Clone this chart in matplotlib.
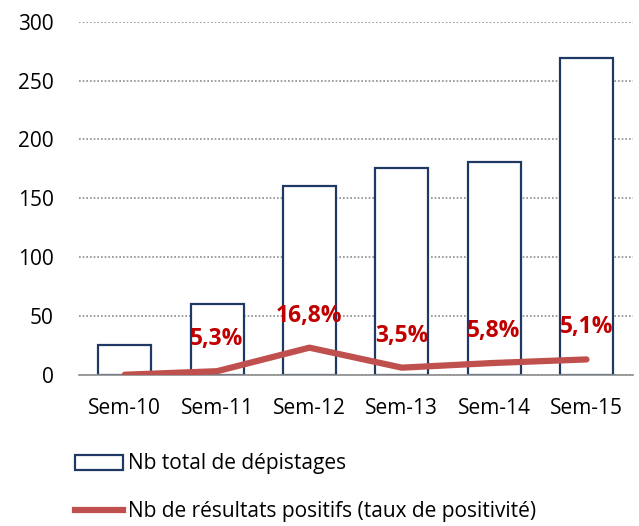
import matplotlib.pyplot as plt
from matplotlib.patches import Patch
from matplotlib.lines import Line2D

plt.rcParams['font.family'] = ['Open Sans', 'DejaVu Sans']

weeks = ["Sem-10", "Sem-11", "Sem-12", "Sem-13", "Sem-14", "Sem-15"]
total = [25, 60, 160, 176, 181, 269]
positives = [0, 3, 23, 6, 10, 13]
rates = [None, "5,3%", "16,8%", "3,5%", "5,8%", "5,1%"]

NAVY = "#1F3864"
RED_LINE = "#C0504D"
RED_TXT = "#C00000"

fig = plt.figure(figsize=(6.39, 5.26), dpi=100)
ax = fig.add_axes([0.123, 0.2876, 0.867, 0.6711])

x = list(range(len(weeks)))
ax.bar(x, total, width=0.575, facecolor="white", edgecolor=NAVY, linewidth=1.6, zorder=2)
ax.plot(x, positives, color=RED_LINE, linewidth=4.5, solid_capstyle="round", zorder=3)

for xi, yi, lab in zip(x, positives, rates):
    if lab:
        ax.annotate(lab, (xi, yi), xytext=(0, 23), textcoords="offset points",
                    ha="center", va="center", color=RED_TXT, fontsize=16.5,
                    fontweight="bold", zorder=4)

ax.set_xlim(-0.5, len(weeks) - 0.5)
ax.set_ylim(0, 300)
ax.set_yticks([0, 50, 100, 150, 200, 250, 300])
ax.set_xticks(x)
ax.set_xticklabels(weeks)
ax.tick_params(axis="both", length=0, labelsize=15, colors="black")
ax.tick_params(axis="x", pad=17)
ax.tick_params(axis="y", pad=18)
ax.yaxis.grid(True, linestyle=(0, (1, 1.2)), color="#8C8C8C", linewidth=1.2, zorder=0)
ax.set_axisbelow(True)
for s in ["top", "right", "left"]:
    ax.spines[s].set_visible(False)
ax.spines["bottom"].set_color("#8C8C8C")
ax.spines["bottom"].set_linewidth(1.2)

handles = [Patch(facecolor="white", edgecolor=NAVY, linewidth=1.6),
           Line2D([0], [0], color=RED_LINE, linewidth=4.5)]
labels = ["Nb total de dépistages", "Nb de résultats positifs (taux de positivité)"]
fig.legend(handles, labels, loc="upper left", bbox_to_anchor=(0.117, 0.138),
           frameon=False, fontsize=15, handlelength=2.3, handleheight=0.75,
           handletextpad=0.25, labelspacing=1.3, borderaxespad=0, borderpad=0)

fig.savefig("out.png", dpi=100)
